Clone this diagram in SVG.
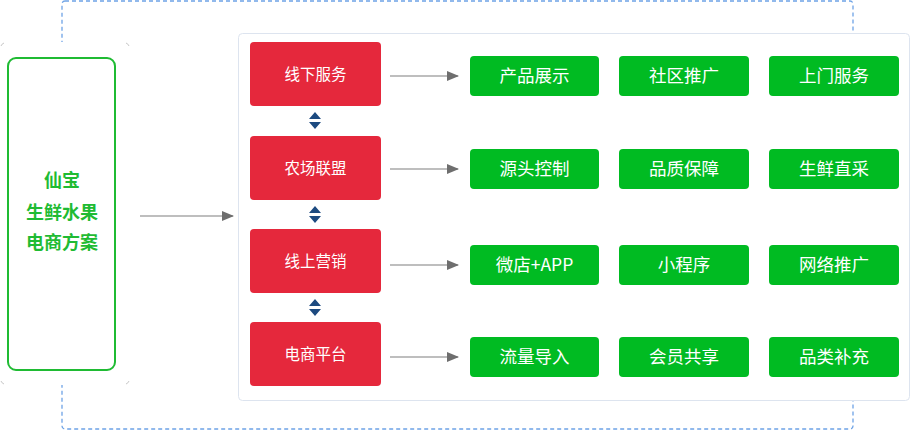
<svg xmlns="http://www.w3.org/2000/svg" width="911" height="431" viewBox="0 0 911 431">
<defs>
<marker id="ah" markerWidth="12" markerHeight="10" refX="11" refY="5" orient="auto" markerUnits="userSpaceOnUse">
<path d="M0,0 L12,5 L0,10 Z" fill="#6e6e6e"/>
</marker>
<style>
.red{fill:#e5283c;}
.grn{fill:#00bb22;}
.rt{font-family:"Noto Sans CJK SC","Liberation Sans",sans-serif;font-size:15.5px;fill:#ffffff;text-anchor:middle;}
.gt{font-family:"Noto Sans CJK SC","Liberation Sans",sans-serif;font-size:17.5px;fill:#ffffff;text-anchor:middle;}
.lt{font-family:"Noto Sans CJK SC","Liberation Sans",sans-serif;font-size:18px;font-weight:bold;fill:#1fbb33;text-anchor:middle;}
.conn{stroke:#a8a8a8;stroke-width:1.5;fill:none;marker-end:url(#ah);}
.dbl{fill:#1d4a80;}
</style>
</defs>
<rect width="911" height="431" fill="#ffffff"/>
<rect id="frame" x="62" y="1" width="791" height="428" rx="3" fill="none" stroke="#6ea3e6" stroke-width="1.3" stroke-dasharray="4,3"/>
<g id="leftbg">
<rect x="0" y="42" width="130" height="343" rx="6" fill="#ffffff"/>
<path d="M1,46 A5,5 0 0 1 4,43 M126,43 A5,5 0 0 1 129,46 M129,381 A5,5 0 0 1 126,384 M4,384 A5,5 0 0 1 1,381" fill="none" stroke="#c8c8c8" stroke-width="1"/>
</g>
<g id="main">
<rect x="8" y="58" width="107" height="312" rx="8" fill="#ffffff" stroke="#1fbb33" stroke-width="2"/>
<text class="lt" x="62" y="187">仙宝</text>
<text class="lt" x="62" y="219">生鲜水果</text>
<text class="lt" x="62" y="249">电商方案</text>
</g>
<g id="panel">
<rect x="238.5" y="33.5" width="671" height="367" rx="4" fill="#ffffff" stroke="#dde4ef" stroke-width="1"/>
</g>
<g id="connectors">
<line class="conn" x1="140" y1="216" x2="233" y2="216"/>
<line class="conn" x1="390" y1="76" x2="458" y2="76"/>
<line class="conn" x1="390" y1="169" x2="458" y2="169"/>
<line class="conn" x1="390" y1="265" x2="458" y2="265"/>
<line class="conn" x1="390" y1="357" x2="458" y2="357"/>
<path class="dbl" d="M309,119 L315,112 L321,119 Z M309,122 L315,129 L321,122 Z"/>
<path class="dbl" d="M309,213 L315,206 L321,213 Z M309,216 L315,223 L321,216 Z"/>
<path class="dbl" d="M309,306 L315,299 L321,306 Z M309,309 L315,316 L321,309 Z"/>
</g>
<g id="n-xianxia"><rect class="red" x="250" y="42" width="131" height="64" rx="4"/><text class="rt" x="315.5" y="79.5">线下服务</text></g>
<g id="n-nongchang"><rect class="red" x="250" y="136" width="131" height="64" rx="4"/><text class="rt" x="315.5" y="173.5">农场联盟</text></g>
<g id="n-xianshang"><rect class="red" x="250" y="229" width="131" height="64" rx="4"/><text class="rt" x="315.5" y="266.5">线上营销</text></g>
<g id="n-dianshang"><rect class="red" x="250" y="322" width="131" height="64" rx="4"/><text class="rt" x="315.5" y="359.5">电商平台</text></g>

<g id="g11"><rect class="grn" x="470" y="56" width="129" height="40" rx="4"/><text class="gt" x="534.5" y="82">产品展示</text></g>
<g id="g12"><rect class="grn" x="619" y="56" width="130" height="40" rx="4"/><text class="gt" x="684" y="82">社区推广</text></g>
<g id="g13"><rect class="grn" x="769" y="56" width="130" height="40" rx="4"/><text class="gt" x="834" y="82">上门服务</text></g>

<g id="g21"><rect class="grn" x="470" y="149" width="129" height="40" rx="4"/><text class="gt" x="534.5" y="175">源头控制</text></g>
<g id="g22"><rect class="grn" x="619" y="149" width="130" height="40" rx="4"/><text class="gt" x="684" y="175">品质保障</text></g>
<g id="g23"><rect class="grn" x="769" y="149" width="130" height="40" rx="4"/><text class="gt" x="834" y="175">生鲜直采</text></g>

<g id="g31"><rect class="grn" x="470" y="245" width="129" height="40" rx="4"/><text class="gt" x="534.5" y="271">微店+APP</text></g>
<g id="g32"><rect class="grn" x="619" y="245" width="130" height="40" rx="4"/><text class="gt" x="684" y="271">小程序</text></g>
<g id="g33"><rect class="grn" x="769" y="245" width="130" height="40" rx="4"/><text class="gt" x="834" y="271">网络推广</text></g>

<g id="g41"><rect class="grn" x="470" y="337" width="129" height="40" rx="4"/><text class="gt" x="534.5" y="363">流量导入</text></g>
<g id="g42"><rect class="grn" x="619" y="337" width="130" height="40" rx="4"/><text class="gt" x="684" y="363">会员共享</text></g>
<g id="g43"><rect class="grn" x="769" y="337" width="130" height="40" rx="4"/><text class="gt" x="834" y="363">品类补充</text></g>
</svg>
